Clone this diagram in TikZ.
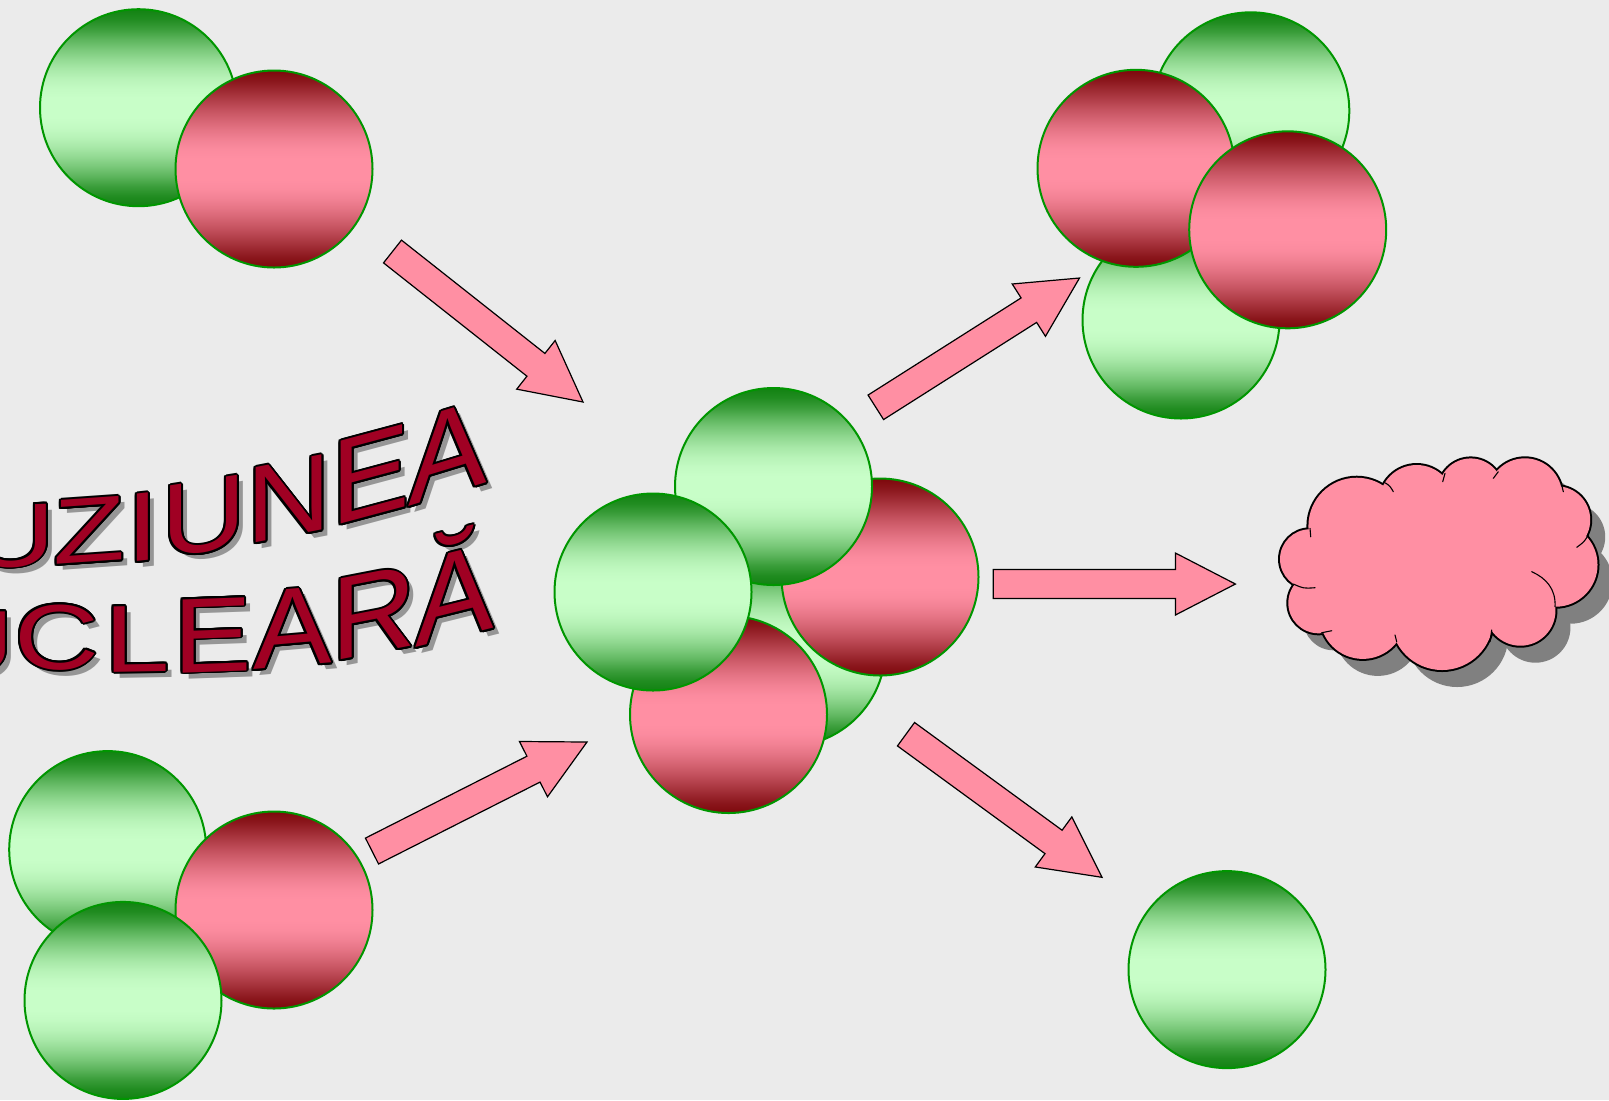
\documentclass[tikz,border=0pt]{standalone}
\usepackage{fontspec}
\setmainfont{Liberation Sans}
\usetikzlibrary{calc}

\definecolor{bg}{RGB}{235,235,235}
\definecolor{pinkfill}{RGB}{255,143,163}
\definecolor{greenlight}{RGB}{200,254,200}
\definecolor{greendark}{RGB}{18,130,18}
\definecolor{reddark}{RGB}{125,8,12}
\definecolor{rim}{RGB}{0,150,0}
\definecolor{wordred}{RGB}{160,0,35}
\definecolor{wordshadow}{RGB}{150,150,150}
\definecolor{cloudshadow}{RGB}{128,128,128}

% ball shadings: dark rim at top and bottom, broad light band in the middle
% (the path is fitted between 25bp and 75bp)
\pgfdeclareverticalshading{greenball}{100bp}{%
  color(0bp)=(greendark); color(25bp)=(greendark);
  color(27.5bp)=(greendark!92!greenlight); color(30bp)=(greendark!78!greenlight);
  color(32.5bp)=(greendark!60!greenlight); color(35bp)=(greendark!44!greenlight);
  color(37.5bp)=(greendark!30!greenlight); color(40bp)=(greendark!18!greenlight);
  color(42.5bp)=(greendark!9!greenlight); color(45bp)=(greendark!3!greenlight);
  color(47.5bp)=(greenlight); color(52.5bp)=(greenlight);
  color(55bp)=(greendark!3!greenlight); color(57.5bp)=(greendark!9!greenlight);
  color(60bp)=(greendark!18!greenlight); color(62.5bp)=(greendark!30!greenlight);
  color(65bp)=(greendark!44!greenlight); color(67.5bp)=(greendark!60!greenlight);
  color(70bp)=(greendark!78!greenlight); color(72.5bp)=(greendark!92!greenlight);
  color(75bp)=(greendark); color(100bp)=(greendark)}
\pgfdeclareverticalshading{redball}{100bp}{%
  color(0bp)=(reddark); color(25bp)=(reddark);
  color(27.5bp)=(reddark!90!pinkfill); color(30bp)=(reddark!75!pinkfill);
  color(32.5bp)=(reddark!60!pinkfill); color(35bp)=(reddark!45!pinkfill);
  color(37.5bp)=(reddark!32!pinkfill); color(40bp)=(reddark!20!pinkfill);
  color(42.5bp)=(reddark!10!pinkfill); color(45bp)=(reddark!3!pinkfill);
  color(47.5bp)=(pinkfill); color(52.5bp)=(pinkfill);
  color(55bp)=(reddark!3!pinkfill); color(57.5bp)=(reddark!10!pinkfill);
  color(60bp)=(reddark!20!pinkfill); color(62.5bp)=(reddark!32!pinkfill);
  color(65bp)=(reddark!45!pinkfill); color(67.5bp)=(reddark!60!pinkfill);
  color(70bp)=(reddark!75!pinkfill); color(72.5bp)=(reddark!90!pinkfill);
  color(75bp)=(reddark); color(100bp)=(reddark)}

\tikzset{
  nucleon/.style={circle, inner sep=0pt, minimum size=98.5pt, draw=rim, line width=1pt, shade},
  neutron/.style={nucleon, shading=greenball},
  proton/.style={nucleon, shading=redball},
  fatarrow/.style={fill=pinkfill, draw=black, line width=0.6pt, line join=miter},
  letter/.style={inner sep=0pt, anchor=base west, font=\fontsize{49pt}{49pt}\selectfont},
  puffline/.style={draw=black, line width=0.55pt, line cap=round},
}

% one slanted WordArt letter: shadow, black rim, red face
% #1 name, #2 x, #3 y, #4 yslant, #5 yscale, #6 glyph
\newcommand\artletter[6]{%
  \node[letter, text=wordshadow, yslant=#4, xscale=1.2, yscale=#5] (#1s) at ($(#2,#3)+(6,6)$) {#6};
  \foreach \ang in {0,24,...,336}
    \node[letter, text=black, yslant=#4, xscale=1.2, yscale=#5] (#1o\ang) at ($(#2,#3)+(\ang:2)$) {#6};
  \node[letter, text=wordred, yslant=#4, xscale=1.2, yscale=#5] (#1) at (#2,#3) {#6};
}

% broad block arrow from coordinate #1 (tail) to coordinate #2 (tip)
\newcommand\pusharrow[2]{%
  \coordinate (#1neck) at ($(#2)!30pt!(#1)$);
  \draw[fatarrow]
    ($(#1)!7.25pt!90:(#2)$) --
    ($(#1neck)!7.25pt!90:(#2)$) --
    ($(#1neck)!15.5pt!90:(#2)$) --
    (#2) --
    ($(#1neck)!15.5pt!-90:(#2)$) --
    ($(#1neck)!7.25pt!-90:(#2)$) --
    ($(#1)!7.25pt!-90:(#2)$) -- cycle;
}

% cloud puffs: x / y / radius
\def\puffs{1356.7/526/24.15, 1416.7/502.5/18.75, 1470.7/490.7/16.15, 1524.9/495.5/18.6,
  1556.5/519.9/16.85, 1555.6/564.8/20.95, 1520.4/610.7/17.5, 1442.1/618.8/25.6,
  1362.8/616.1/21.4, 1318.6/603/15.15, 1309.8/559.1/14.9}

\begin{document}
\begin{tikzpicture}[x=0.5pt, y=-0.5pt]
\useasboundingbox (0,0) rectangle (1609,1100);
\fill[bg] (0,0) rectangle (1609,1100);

% ---- title, first line ----
\artletter{t1a}{-102}{570}{0}{0.886}{F}
\artletter{t1b}{-30}{568}{0.035}{0.914}{U}
\artletter{t1c}{53}{565}{0.070}{0.943}{Z}
\artletter{t1d}{126}{563}{0.105}{1.0}{I}
\artletter{t1e}{161}{559}{0.158}{1.057}{U}
\artletter{t1f}{246}{545}{0.194}{1.114}{N}
\artletter{t1g}{331}{527}{0.268}{1.229}{E}
\artletter{t1h}{408}{507}{0.306}{1.257}{A}

% ---- title, second line ----
\artletter{t2a}{-156}{673}{0}{0.886}{N}
\artletter{t2b}{-71}{673}{0}{0.914}{U}
\artletter{t2c}{14}{669}{0}{0.943}{C}
\artletter{t2d}{104}{672}{0.017}{0.971}{L}
\artletter{t2e}{173}{673}{0.035}{1.086}{E}
\artletter{t2f}{253}{670}{0.087}{1.143}{A}
\artletter{t2g}{331}{662}{0.194}{1.2}{R}
\artletter{t2h}{415}{648}{0.249}{1.271}{Ă}

% ---- arrows ----
\coordinate (a1t) at (392.5,251.5);  \coordinate (a1h) at (583,402);
\coordinate (a2t) at (372,851);      \coordinate (a2h) at (587,742);
\coordinate (a3t) at (875.8,407.3);  \coordinate (a3h) at (1079.5,278);
\coordinate (a4t) at (993.3,584);    \coordinate (a4h) at (1235.4,584);
\coordinate (a5t) at (906,734.2);    \coordinate (a5h) at (1102,877.3);
\pusharrow{a1t}{a1h}
\pusharrow{a2t}{a2h}
\pusharrow{a3t}{a3h}
\pusharrow{a4t}{a4h}
\pusharrow{a5t}{a5h}

% ---- deuteron, top left ----
\node[neutron] (dn) at (138.5,107.7) {};
\node[proton]  (dp) at (274,169) {};

% ---- tritium, bottom left ----
\node[neutron] (tn1) at (107.7,849.6) {};
\node[proton]  (tp)  at (274,910) {};
\node[neutron] (tn2) at (123,1000.4) {};

% ---- compound nucleus, centre ----
\node[neutron] (cn1) at (787,648) {};
\node[proton]  (cp1) at (880,577) {};
\node[neutron] (cn2) at (773.5,486.5) {};
\node[proton]  (cp2) at (728.5,714.5) {};
\node[neutron] (cn3) at (653,592) {};

% ---- helium nucleus, top right ----
\node[neutron] (hn1) at (1250.8,110.8) {};
\node[neutron] (hn2) at (1181,320) {};
\node[proton]  (hp1) at (1136,168.3) {};
\node[proton]  (hp2) at (1287.7,229.8) {};

% ---- free neutron, bottom right ----
\node[neutron] (fn) at (1227,969.6) {};

% ---- energy cloud ----
\foreach \x/\y/\r in \puffs { \fill[cloudshadow] (\x+15,\y+17) circle[radius=\r pt]; }
\fill[cloudshadow] (1455,582) ellipse[x radius=60pt, y radius=36pt];
\foreach \x/\y/\r in \puffs { \draw[black, line width=2pt] (\x,\y) circle[radius=\r pt]; }
\foreach \x/\y/\r in \puffs { \fill[pinkfill] (\x,\y) circle[radius=\r pt]; }
\fill[pinkfill] (1440,565) ellipse[x radius=60pt, y radius=36pt];
\draw[puffline] (1310,528.3) -- (1310.7,536.7);
\draw[puffline] (1385,482.7) .. controls (1390,486) .. (1393.3,491.7);
\draw[puffline] (1445,473.3) .. controls (1443.5,477) .. (1442.7,481.7);
\draw[puffline] (1498.3,471.7) .. controls (1495.5,474.5) .. (1493.3,478.3);
\draw[puffline] (1561.7,485) .. controls (1562.8,488) .. (1563.3,491.7);
\draw[puffline] (1588.3,535) .. controls (1584,542) .. (1576.7,547.3);
\draw[puffline] (1555,606.7) .. controls (1556,589) and (1546,578) .. (1531.7,571.7);
\draw[puffline] (1491.7,630) .. controls (1491.2,636) .. (1490,641.7);
\draw[puffline] (1396.7,641.7) .. controls (1395.5,639) .. (1395,635);
\draw[puffline] (1321.7,632.7) .. controls (1326.5,632.3) .. (1331.7,630.7);
\draw[puffline] (1293.3,584) .. controls (1303.5,588.5) .. (1315,587.7);
\end{tikzpicture}
\end{document}
